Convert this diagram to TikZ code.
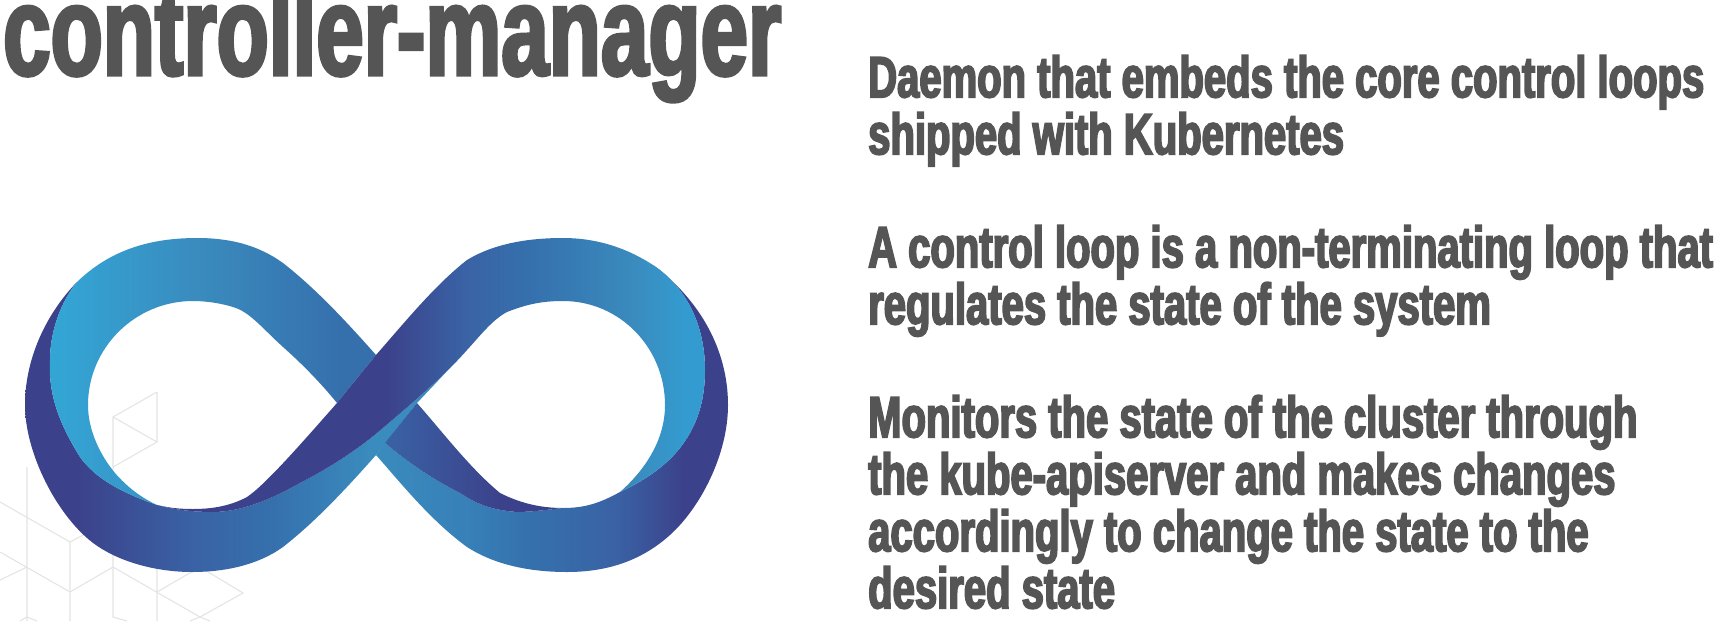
\documentclass[tikz,border=0pt]{standalone}
\usepackage{xcolor}
\usepackage{fontspec}
\usepackage{tikz}
\usetikzlibrary{positioning}
\newfontfamily\headfont[FakeStretch=0.667,FakeBold=2.5]{Liberation Sans}
\newfontfamily\bodyfont[FakeStretch=0.69,FakeBold=3]{Liberation Sans}
\definecolor{textgray}{RGB}{85,85,85}
\definecolor{gridgray}{RGB}{228,228,228}
\definecolor{loopdark}{RGB}{59,66,139}
\definecolor{loopmid}{RGB}{58,98,165}
\definecolor{loopsteel}{RGB}{53,112,173}
\definecolor{loopblue}{RGB}{55,128,184}
\definecolor{loopsky}{RGB}{58,139,190}
\definecolor{loopcyan}{RGB}{51,155,207}
\definecolor{looplight}{RGB}{51,165,213}
\pgfdeclarehorizontalshading{bandtopleft}{100bp}{color(0bp)=(looplight); color(26.5bp)=(looplight); color(48bp)=(loopsky); color(69.5bp)=(loopsteel); color(100bp)=(loopsteel)}
\pgfdeclarehorizontalshading{bandbottomleft}{100bp}{color(0bp)=(loopdark); color(31bp)=(loopdark); color(44bp)=(loopmid); color(53bp)=(loopsteel); color(64bp)=(loopsky); color(100bp)=(loopsky)}
\pgfdeclarehorizontalshading{bandtopright}{100bp}{color(0bp)=(loopdark); color(46bp)=(loopdark); color(53bp)=(loopmid); color(59bp)=(loopsteel); color(68.5bp)=(loopsky); color(73bp)=(loopcyan); color(100bp)=(loopcyan)}
\pgfdeclarehorizontalshading{bandbottomright}{100bp}{color(0bp)=(loopsky); color(25bp)=(loopsky); color(38bp)=(loopblue); color(47bp)=(loopsteel); color(59bp)=(loopmid); color(68.6bp)=(loopdark); color(100bp)=(loopdark)}
\pgfdeclarehorizontalshading{bandfold}{100bp}{color(0bp)=(loopmid); color(25bp)=(loopmid); color(57bp)=(loopdark); color(100bp)=(loopdark)}

\begin{document}
\begin{tikzpicture}[
    x=1pt, y=-1pt,
    titletext/.style={inner sep=0pt, anchor=base west, text=textgray, font=\headfont\bfseries\fontsize{128}{128}\selectfont},
    bodytext/.style={inner sep=0pt, anchor=north west, align=left, text=textgray, font=\bodyfont\bfseries\fontsize{58}{57}\selectfont},
    gridline/.style={draw=gridgray, line width=1.1pt},
    band/.style={draw=none}
]
\useasboundingbox (0,0) rectangle (1723,621);

% Faint grid behind the loop
\draw[gridline] (157,392) -- (113,417) -- (113,617) (157,392) -- (157,442) -- (113,467) (157,442) -- (113,417);
\draw[gridline] (27,467) -- (27,621) (0,502) -- (70,542) -- (70,621) (70,542) -- (87,533);
\draw[gridline] (0,552) -- (70,592) -- (113,567) -- (200,617) -- (243,593) -- (200,567) -- (157,592);
\draw[gridline] (0,580) -- (27,567) (157,550) -- (157,621) (113,617) -- (127,621);
\draw[gridline] (20,621) -- (27,617) -- (37,621) (190,621) -- (200,617) -- (210,621);

% Loop, back bands first
\path[band, shading=bandbottomleft] (77,282) .. controls (45,315) and (25,360) .. (25,405)
    .. controls (25,450) and (53,508) .. (87,538) .. controls (113,561) and (155,572) .. (192,572)
    .. controls (225,572) and (258,565) .. (283,547) .. controls (315,522) and (345,490) .. (376,455)
    -- (417,403) -- (467,350) .. controls (440,380) and (410,405) .. (377,433)
    .. controls (350,455) and (325,470) .. (300,483) .. controls (270,500) and (240,512) .. (213,512)
    .. controls (195,512) and (175,510) .. (157,505) .. controls (120,492) and (95,478) .. (80,457)
    .. controls (60,425) and (48,395) .. (50,360) .. controls (50,330) and (62,300) .. (77,282) -- cycle;
\path[band, shading=bandtopleft] (77,282) .. controls (110,250) and (150,238) .. (197,238)
    .. controls (230,238) and (258,245) .. (283,263) .. controls (315,288) and (345,320) .. (376,355)
    -- (337,403) .. controls (320,382) and (300,362) .. (283,347) .. controls (262,328) and (250,312) .. (233,307)
    .. controls (220,303) and (205,301) .. (193,301) .. controls (135,301) and (88,348) .. (88,405)
    .. controls (88,430) and (100,455) .. (115,473) .. controls (128,488) and (142,498) .. (157,505)
    .. controls (120,492) and (95,478) .. (80,457) .. controls (60,425) and (48,395) .. (50,360)
    .. controls (50,330) and (62,300) .. (77,282) -- cycle;
\path[band, shading=bandbottomright] (376,455) .. controls (400,482) and (430,520) .. (467,547)
    .. controls (495,565) and (530,572) .. (567,572) .. controls (605,572) and (640,562) .. (670,535)
    .. controls (700,508) and (728,455) .. (728,405) .. controls (728,350) and (700,300) .. (653,265)
    .. controls (690,290) and (705,330) .. (705,370) .. controls (705,395) and (700,415) .. (690,433)
    .. controls (675,460) and (650,478) .. (620,492) .. controls (600,503) and (585,508) .. (563,508)
    .. controls (545,510) and (530,512) .. (517,512) .. controls (490,510) and (475,503) .. (460,493)
    .. controls (430,478) and (405,460) .. (385,443) -- cycle;
\path[band, shading=bandfold] (385,443) -- (417,403) .. controls (445,435) and (470,468) .. (500,493)
    .. controls (520,503) and (540,508) .. (563,508) .. controls (545,510) and (530,512) .. (517,512)
    .. controls (490,510) and (475,503) .. (460,493) .. controls (430,478) and (405,460) .. (385,443) -- cycle;

% Front band with the dark strip across the middle
\path[band, shading=bandtopright] (157,505) .. controls (170,508) and (180,509) .. (193,509)
    .. controls (215,509) and (232,505) .. (247,497) .. controls (265,485) and (300,445) .. (337,403)
    -- (376,355) .. controls (405,322) and (435,285) .. (467,260) .. controls (495,243) and (530,238) .. (563,238)
    .. controls (600,238) and (630,250) .. (653,265) .. controls (690,290) and (705,330) .. (705,370)
    .. controls (705,395) and (700,415) .. (690,433) .. controls (675,460) and (650,478) .. (620,492)
    .. controls (645,470) and (665,440) .. (665,405) .. controls (665,348) and (620,301) .. (563,301)
    .. controls (540,301) and (525,305) .. (507,312) .. controls (492,320) and (480,336) .. (467,350)
    .. controls (440,380) and (410,405) .. (377,433) .. controls (350,455) and (325,470) .. (300,483)
    .. controls (270,500) and (240,512) .. (213,512) .. controls (195,512) and (175,510) .. (157,505) -- cycle;

% Text
\node[titletext] (title) at (3,75) {controller-manager};
\node[bodytext] (daemon) at (868,55) {Daemon that embeds the core control loops\\shipped with Kubernetes};
\node[bodytext] (loop) at (868,225) {A control loop is a non-terminating loop that\\regulates the state of the system};
\node[bodytext] (monitor) at (868,395) {Monitors the state of the cluster through\\the kube-apiserver and makes changes\\accordingly to change the state to the\\desired state};
\end{tikzpicture}
\end{document}
